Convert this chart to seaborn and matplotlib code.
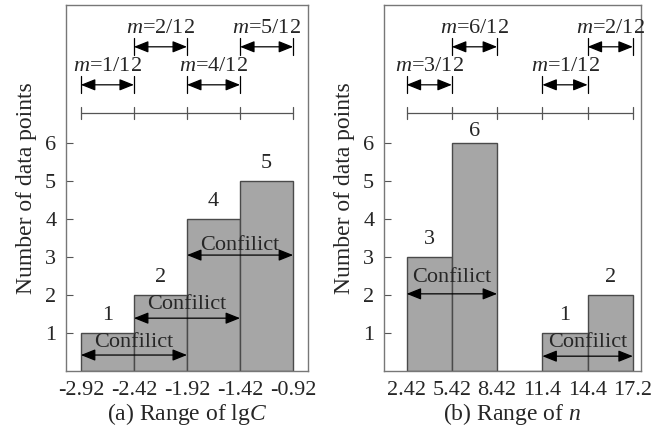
import matplotlib
matplotlib.use("Agg")
import matplotlib.pyplot as plt
import seaborn as sns
import pandas as pd

# ---- data ----
lgc_edges = ["-2.92", "-2.42", "-1.92", "-1.42", "-0.92"]
lgc_counts = [1, 2, 4, 5]
lgc_m_labels = ["1/12", "2/12", "4/12", "5/12"]
lgc_conflicts = [(0, 2), (1, 3), (2, 4)]

n_edges = ["2.42", "5.42", "8.42", "11.4", "14.4", "17.2"]
n_counts = [3, 6, 0, 1, 2]
n_m_labels = ["3/12", "6/12", None, "1/12", "2/12"]
n_conflicts = [(0, 2), (3, 5)]

sns.set_theme(style="white")
plt.rcParams["font.family"] = ["Liberation Serif", "DejaVu Serif"]
plt.rcParams["mathtext.fontset"] = "custom"
plt.rcParams["mathtext.rm"] = "Liberation Serif"
plt.rcParams["mathtext.it"] = "Liberation Serif:italic"

fig = plt.figure(figsize=(6.52, 4.30), dpi=100)
W, H = 652, 430
ax1 = fig.add_axes([66 / W, 59 / H, 242 / W, 366 / H])
ax2 = fig.add_axes([384 / W, 59 / H, 257 / W, 366 / H])

BAR = "#a6a6a6"
EDGE = "#4a4a4a"
FS = 16
YMAX = 9.63


def panel(ax, edges, counts, mlabels, conflicts, xlim, xlabel,
          conflict_pos, value_pos):
    cats = [f"{edges[i]}~{edges[i+1]}" for i in range(len(counts))]
    df = pd.DataFrame({"bin": cats, "count": counts})
    sns.barplot(data=df, x="bin", y="count", order=cats, width=1.0,
                color=BAR, edgecolor=EDGE, linewidth=1.0, saturation=1,
                ax=ax)
    nb = len(counts)
    ax.set_xlim(*xlim)
    ax.set_ylim(0, YMAX)
    ax.set_xticks([i - 0.5 for i in range(nb + 1)])
    ax.set_xticklabels(edges, fontsize=FS)
    ax.tick_params(axis="x", length=0, pad=7)
    ax.set_yticks([1, 2, 3, 4, 5, 6])
    ax.set_yticklabels(["1", "2", "3", "4", "5", "6"], fontsize=FS)
    ax.tick_params(axis="y", direction="in", length=5, width=0.8,
                   color="#555555", pad=7, left=True)
    for s in ax.spines.values():
        s.set_color("#777777")
        s.set_linewidth(1.0)
    ax.set_xlabel(xlabel, fontsize=17, labelpad=1)
    ax.set_ylabel("Number of data points", fontsize=17, labelpad=6)

    # value labels
    for i, c in enumerate(counts):
        if c > 0:
            ax.text(i, value_pos.get(i, c + 0.47), str(c), ha="center",
                    va="center", fontsize=FS)

    # scale line
    ys = 6.79
    ax.plot([-0.5, nb - 0.5], [ys, ys], color="#555555", lw=0.9)
    for i in range(nb + 1):
        ax.plot([i - 0.5, i - 0.5], [ys - 0.15, ys + 0.15],
                color="#555555", lw=0.9)

    # m arrows
    k = 0
    for i, lab in enumerate(mlabels):
        if lab is None:
            continue
        upper = (k % 2 == 1)
        k += 1
        ya = 8.53 if upper else 7.53
        x0, x1 = i - 0.5, i + 0.5
        ax.annotate("", xy=(x1, ya), xytext=(x0, ya),
                    arrowprops=dict(arrowstyle="<|-|>,head_length=0.55,head_width=0.22",
                                    color="black", lw=0.9,
                                    shrinkA=0, shrinkB=0, mutation_scale=16))
        for xx in (x0, x1):
            ax.plot([xx, xx], [ya - 0.22, ya + 0.22], color="black", lw=0.9)
        ax.text(i, ya + 0.47, f"$m$={lab}", ha="center", va="center",
                fontsize=FS)

    # conflict arrows
    for (a, b), (ya, yt) in zip(conflicts, conflict_pos):
        x0, x1 = a - 0.5, b - 0.5
        ax.annotate("", xy=(x1, ya), xytext=(x0, ya),
                    arrowprops=dict(arrowstyle="<|-|>,head_length=0.55,head_width=0.22",
                                    color="black", lw=0.9,
                                    shrinkA=0, shrinkB=0, mutation_scale=16))
        ax.text((x0 + x1) / 2, yt, "Confilict", ha="center", va="center",
                fontsize=FS)


panel(ax1, lgc_edges, lgc_counts, lgc_m_labels, lgc_conflicts,
      (-0.78, 3.78), "(a) Range of lg$C$",
      [(0.42, 0.74), (1.39, 1.74), (3.05, 3.30)], {})
panel(ax2, n_edges, n_counts, n_m_labels, n_conflicts,
      (-1.0, 4.68), "(b) Range of $n$",
      [(2.03, 2.45), (0.39, 0.76)], {1: 6.29})

fig.savefig("out.png", dpi=100)
